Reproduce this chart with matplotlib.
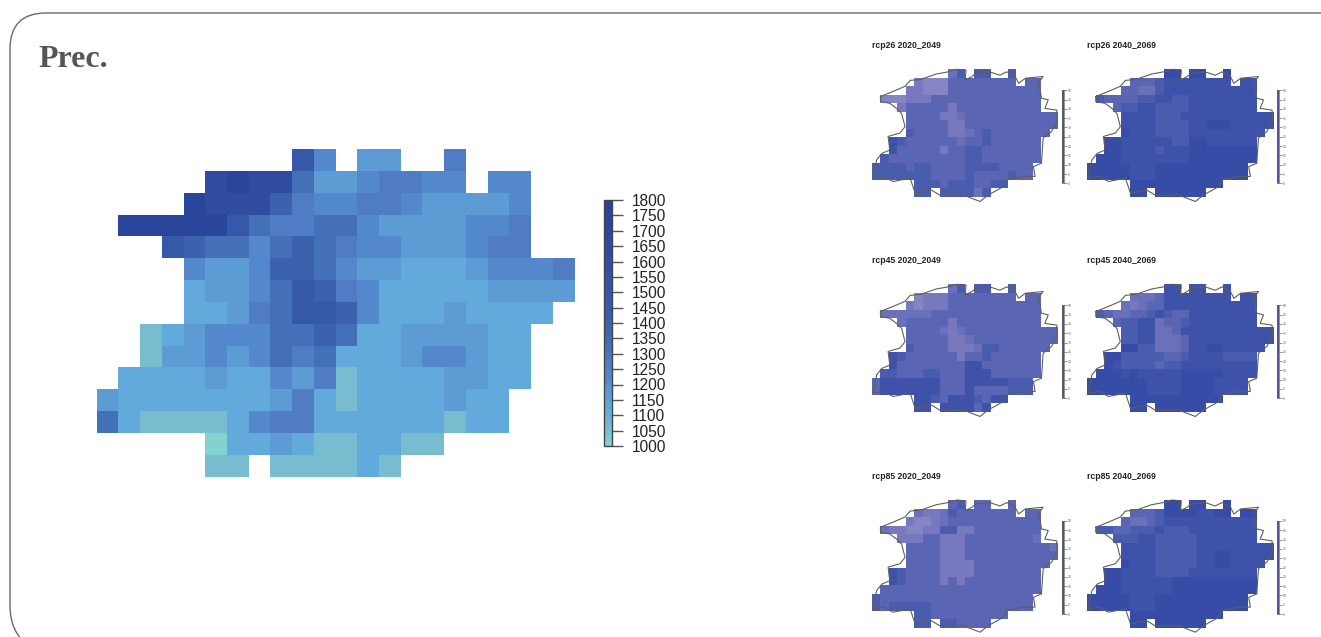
import numpy as np
import matplotlib
matplotlib.use("Agg")
import matplotlib.pyplot as plt
from matplotlib.colors import LinearSegmentedColormap, ListedColormap, Normalize
from matplotlib.patches import PathPatch
from matplotlib.path import Path

W, H = 1321, 637

# big map, one letter per cell, '.' is no data
prec_rows = [
    ".........IE.DD..F.....",
    ".....JKJJGDDEFFEE.EE..",
    "....KJJJHFEEFFEDDDDE..",
    ".KKKKKIGFFGGEDDDDEEF..",
    "...IHGGEGHGFEEDDDEFF..",
    "....EDDEHHGEDDCCCDEEEF",
    "....CDDEGIHFECCCCCDDDD",
    "....CCDFGIIHECCCDCCCC.",
    "..BCDEEEGGHGCCDDDDCC..",
    "..BDDEDEGFGCCCDEEDCC..",
    ".CCCCDCCEDFBCCCCDDCC..",
    "DCCCCCCCDFCBCCCCDCC...",
    "GCBBBBCEFFCCCCCCBCC...",
    ".....ACCDCBBCCBB......",
    ".....BB.BBBBCB........",
]
prec_levels = {"A": 1000, "B": 1060, "C": 1120, "D": 1170, "E": 1220, "F": 1270,
               "G": 1320, "H": 1400, "I": 1480, "J": 1620, "K": 1750}
prec_ticks = [1000, 1050, 1100, 1150, 1200, 1250, 1300, 1350, 1400,
              1450, 1500, 1550, 1600, 1650, 1700, 1750, 1800]
prec_anchor_vals = [1000, 1060, 1120, 1170, 1220, 1270, 1320, 1400, 1480, 1620, 1800]
prec_anchor_cols = ["#84d2d0", "#78bcd0", "#62aadc", "#5c9bd4", "#5488cc", "#4f7cc2",
                    "#4470b8", "#3c62ae", "#3558a8", "#2f4ca0", "#28429a"]

# scenario maps, a = lightest .. g = darkest
rcp26_2020 = [
    ".........ce.ee..e.....",
    ".....baaadddddddd.dd..",
    "....bbaaaddddddddddd..",
    ".aaabbbddddddddddddd..",
    "...bdddddbdddddddddd..",
    "....ddddbbcddddddddddd",
    "....dddddbbddddddddddd",
    "....eddddbbcdeddddddd.",
    "..feddddddcddedddddd..",
    "..fdddddbddeeddddddd..",
    ".edddddddddeeddddddd..",
    "eeeedeeddddeeeedddd...",
    "eeeeeeeddddeddddedd...",
    ".....eeedeeeddee......",
    ".....ee.eeeece........",
]
rcp26_2040 = [
    ".........gg.gg..g.....",
    ".....dddeffffffff.ff..",
    "....ddccefffffffffff..",
    ".eddddeeffeeffffffff..",
    "...deeffeeeeffffffff..",
    "....ffffeeefffffffffff",
    "....ffffeeeeffgggfffff",
    "....gfffeeeefffffffff.",
    "..ggffffffeeggffffff..",
    "..ggffffefffgggggggg..",
    ".gggffffffffgggggggg..",
    "gggggfffggggggggggg...",
    "gggggfffggggggggggg...",
    ".....ggggggggggg......",
    ".....gg.gggggg........",
]
rcp45_2020 = [
    ".........ce.ee..e.....",
    ".....abbbdddddddd.dd..",
    "....babbbddddddddddd..",
    ".ccccccddddddddddddd..",
    "...cdddddbdddddddddd..",
    "....ddddcbcddddddddddd",
    "....dddddbbcdddddddddd",
    "....eddddbbbceedddddd.",
    "..feddddddbddedddddd..",
    "..fddddddddffddddddd..",
    ".eedddeedddfffdddddd..",
    "dfffffffdddfffffeee...",
    "dfffffffdddfddddeee...",
    ".....ffedfffedff......",
    ".....ff.ffffdf........",
]
rcp45_2040 = [
    ".........ff.ff..f.....",
    ".....cccdffffffff.ff..",
    "....cbcddfffffffffff..",
    ".edccddefeddffffffff..",
    "...deeffcddeffffffff..",
    "....eeffccdfffffffffff",
    "....eeffcccdffffffffff",
    "....ggeecccdffggfffff.",
    "..ggeeeeeddeffffeeee..",
    "..gfeeeedeefffffffff..",
    ".gggfgfffffgggggffff..",
    "gggggggffffggggffff...",
    "gggggggffffggggffff...",
    ".....ggggggggggg......",
    ".....gg.gggggg........",
]
rcp85_2020 = [
    ".........de.dd..d.....",
    ".....cbbceddddddd.dd..",
    "....baabcddddddddddd..",
    ".cbbaabbeebbdddddddd..",
    "...bbbddbbbddddddddc..",
    "....ddddbbbddddddddddc",
    "....ddddbbbddddddddddd",
    "....ddddbbbbddddddddd.",
    "..feddddbbbbdddddddd..",
    "..feddddbdbddddddddd..",
    ".ddddddddddddddddddd..",
    "edddddddddddddddddd...",
    "edeeeeedddddddddddd...",
    ".....eeddddddddd......",
    ".....ee.eedddd........",
]
rcp85_2040 = [
    ".........gg.gg..g.....",
    ".....dddeggggffgg.gg..",
    "....dccdefffffffffff..",
    ".eeddeeefeeeffffffff..",
    "...eeeffeeeeefffffff..",
    "....ffffeeeeefffffffff",
    "....ffffeeeeeffggfffff",
    "....gfffeeeeeffggffff.",
    "..ggffffeeeeffffffff..",
    "..ggffffffgggggggggg..",
    ".gggffffffgggggggggg..",
    "gggggfffggggggggggg...",
    "gggggfffggggggggggg...",
    ".....ggggggggggg......",
    ".....gg.gggggg........",
]
small_maps = [rcp26_2020, rcp26_2040, rcp45_2020, rcp45_2040, rcp85_2020, rcp85_2040]
small_titles = ["rcp26 2020_2049", "rcp26 2040_2069", "rcp45 2020_2049",
                "rcp45 2040_2069", "rcp85 2020_2049", "rcp85 2040_2069"]
small_levels = "abcdefg"
small_colors = ["#8585c6", "#7878be", "#6a70b9", "#5a66b3", "#4a5cae", "#3f52a9", "#374ca6"]
small_ticks = [0, 5, 10, 15, 20, 25, 30, 35, 40, 45, 50]

# state boundary in map cell units
outline_x = [1.0, 2.5, 3.9, 4.5, 5.7, 7.6, 9.0, 10.0, 11.1, 11.0, 11.8, 12.2, 13.9, 15.1,
             15.9, 16.9, 17.3, 18.1, 20.2, 19.6, 19.8, 20.0, 20.8, 20.4, 21.8, 21.9, 21.2,
             20.2, 20.0, 19.05, 19.25, 17.9, 15.9, 15.5, 13.7, 12.75, 10.8, 8.0, 7.0, 5.1,
             4.5, 2.5, 1.35, 0.1, 0.55, 1.15, 2.1, 1.9, 3.3, 3.9, 3.5, 2.9, 2.1, 1.0, 1.0]
outline_y = [3.2, 2.6, 2.0, 1.3, 1.2, 0.55, 0.3, 0.0, 0.1, 1.25, 0.85, 0.5, 0.3, 0.7,
             0.3, 0.85, 1.65, 1.05, 0.85, 1.65, 2.2, 3.4, 3.6, 4.6, 4.8, 6.0, 7.3,
             8.1, 11.05, 11.45, 12.6, 12.6, 13.0, 13.8, 14.8, 15.55, 14.8, 14.8, 14.2, 14.6,
             12.8, 13.2, 12.6, 12.8, 10.65, 9.9, 9.5, 7.9, 7.5, 6.75, 5.2, 4.6, 4.0, 3.8, 3.2]


def px_axes(fig, x, y, w, h):
    # x, y is the top left corner in image pixels
    return fig.add_axes([x / W, 1 - (y + h) / H, w / W, h / H])


def to_grid(rows, levels):
    grid = np.full((15, 22), np.nan)
    for i, row in enumerate(rows):
        for j, ch in enumerate(row[:22]):
            if ch in levels:
                grid[i, j] = levels[ch]
    return grid


def draw_map(ax, grid, cmap, norm):
    mesh = ax.pcolormesh(np.arange(23), np.arange(16), grid, cmap=cmap, norm=norm,
                         edgecolors="none", antialiased=False)
    ax.set_xlim(0, 22)
    ax.set_ylim(15, 0)
    ax.axis("off")
    return mesh


fig = plt.figure(figsize=(W / 100, H / 100), dpi=100)

# page frame and heading, the card runs off the right and bottom edge
bg = fig.add_axes([0, 0, 1, 1])
bg.set_xlim(0, W)
bg.set_ylim(H, 0)
bg.axis("off")
frame = Path([(W + 5, 13), (46, 13), (10, 13), (10, 49), (10, 606), (10, 632), (28, 645)],
             [Path.MOVETO, Path.LINETO, Path.CURVE3, Path.CURVE3, Path.LINETO,
              Path.CURVE3, Path.CURVE3])
bg.add_patch(PathPatch(frame, fc="none", ec="#6a6a6a", lw=1.0))
bg.text(38, 59.5, "Prec.", family="Liberation Serif", weight="bold", fontsize=23,
        color="#555555", ha="left", va="center")

# big map
prec_cmap = LinearSegmentedColormap.from_list(
    "prec", [((v - 1000) / 800, c) for v, c in zip(prec_anchor_vals, prec_anchor_cols)], N=256)
prec_norm = Normalize(1000, 1800)
ax = px_axes(fig, 96.7, 149, 477.8, 327.6)
mesh = draw_map(ax, to_grid(prec_rows, prec_levels), prec_cmap, prec_norm)

cax = px_axes(fig, 603.5, 200, 8.5, 246)
cb = fig.colorbar(mesh, cax=cax, ticks=prec_ticks)
cb.outline.set_edgecolor("#444444")
cb.outline.set_linewidth(1.0)
cax.tick_params(axis="y", length=8, width=1, color="#555555", pad=6.5)
for lab in cax.get_yticklabels():
    lab.set_family("Liberation Sans")
    lab.set_fontsize(11.2)
    lab.set_color("#222222")

# scenario maps
small_cmap = ListedColormap(small_colors)
small_norm = Normalize(-0.5, 6.5)
small_lookup = {ch: k for k, ch in enumerate(small_levels)}
col_x = [872, 1087.3]
row_y = [69.3, 284.3, 500]
for k, rows in enumerate(small_maps):
    x0 = col_x[k % 2]
    y0 = row_y[k // 2]
    ax = px_axes(fig, x0, y0, 186.4, 127.5)
    draw_map(ax, to_grid(rows, small_lookup), small_cmap, small_norm)
    ax.plot(outline_x, outline_y, color="#5f5f55", lw=0.8, clip_on=False)
    bg.text(x0, y0 - 23.5, small_titles[k], family="Liberation Sans", weight="bold",
            fontsize=6.2, color="#222222", ha="left", va="center")

    bar = px_axes(fig, x0 + 189.8, y0 + 21, 2, 93)
    bar.imshow(np.full((2, 1), 0.5), aspect="auto", cmap=ListedColormap(["#4a4f98"]),
               extent=[0, 1, small_ticks[0], small_ticks[-1]])
    bar.set_xticks([])
    bar.yaxis.tick_right()
    bar.set_yticks(small_ticks)
    bar.tick_params(axis="y", length=2, width=0.5, color="#666660", pad=0.6,
                    labelsize=2.2, labelcolor="#555555")
    for s in bar.spines.values():
        s.set_color("#666660")
        s.set_linewidth(0.5)

fig.savefig("out.png", dpi=100)
